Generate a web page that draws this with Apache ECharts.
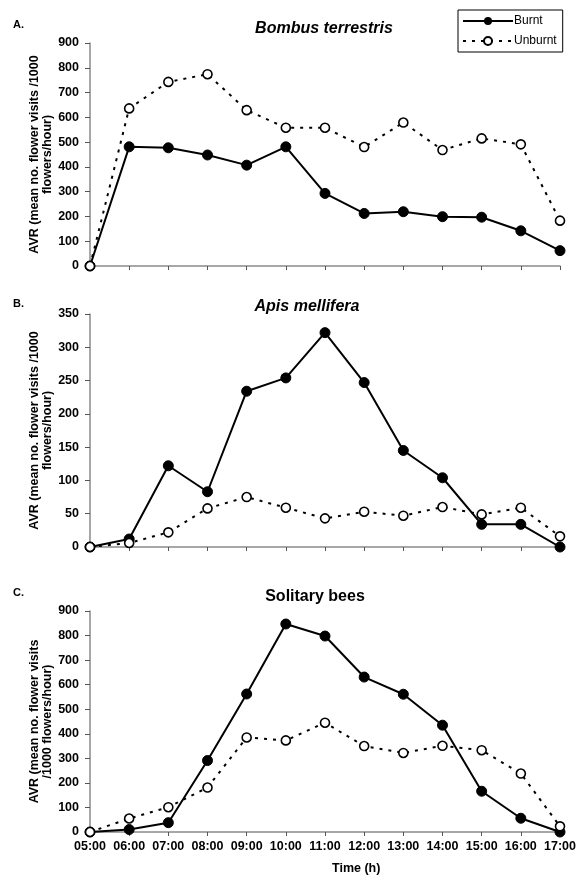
<!DOCTYPE html>
<html>
<head>
<meta charset="utf-8">
<script src="https://cdn.jsdelivr.net/npm/echarts@6/dist/echarts.min.js"></script>
<style>
html,body{margin:0;padding:0;background:#fff;}
#chart{width:579px;height:877px;}
</style>
</head>
<body>
<div id="chart"></div>
<script>
var times = ['05:00','06:00','07:00','08:00','09:00','10:00','11:00','12:00','13:00','14:00','15:00','16:00','17:00'];
var seriesNames = ['Burnt','Unburnt'];
var panelTitles = ['Bombus terrestris','Apis mellifera','Solitary bees'];
var panelLetters = ['A.','B.','C.'];
var yMax = [900, 350, 900];
var yStep = [100, 50, 100];

var bombusBurnt   = [0, 481, 477, 448, 407, 481, 293, 212, 219, 199, 197, 142, 62];
var bombusUnburnt = [0, 636, 743, 774, 629, 558, 558, 480, 579, 468, 515, 491, 183];
var apisBurnt     = [0, 12, 122, 83, 234, 254, 322, 247, 145, 104, 34, 34, 0];
var apisUnburnt   = [0, 6, 22, 58, 75, 59, 43, 53, 47, 60, 49, 59, 16];
var solitaryBurnt   = [0, 10, 38, 291, 562, 847, 798, 631, 561, 435, 166, 56, 0];
var solitaryUnburnt = [0, 55, 101, 181, 385, 373, 445, 350, 322, 351, 333, 238, 23];

var burntData = [bombusBurnt, apisBurnt, solitaryBurnt];
var unburntData = [bombusUnburnt, apisUnburnt, solitaryUnburnt];

var FONT = '"Liberation Sans", Arial, sans-serif';
var grids = [
  {left: 90, right: 19, top: 43, height: 223},
  {left: 90, right: 19, top: 314, height: 233},
  {left: 90, right: 19, top: 611, height: 221}
];
var yNames = [
  'AVR (mean no. flower visits /1000\nflowers/hour)',
  'AVR (mean no. flower visits /1000\nflowers/hour)',
  'AVR (mean no. flower visits\n/1000 flowers/hour)'
];
var titleTops = [16, 294, 584];
var titleLefts = [319, 302, 310];
var letterTops = [14, 293, 582];

var xAxes = [], yAxes = [], series = [], titles = [];
for (var i = 0; i < 3; i++) {
  xAxes.push({
    type: 'category', gridIndex: i, data: times, boundaryGap: false,
    axisLine: {lineStyle: {color: '#8a8a8a', width: 1.5}},
    axisTick: {show: true, length: 4, inside: false, interval: 0, lineStyle: {color: '#555'}},
    axisLabel: {show: i === 2, interval: 0, hideOverlap: false, color: '#000', fontFamily: FONT, fontSize: 12.5, fontWeight: 'bold', margin: 8},
    splitLine: {show: false}
  });
  yAxes.push({
    type: 'value', gridIndex: i, min: 0, max: yMax[i], interval: yStep[i],
    name: yNames[i], nameLocation: 'middle', nameGap: 36, nameRotate: 90, nameMoveOverlap: false,
    nameTextStyle: {color: '#000', fontFamily: FONT, fontSize: 12.5, fontWeight: 'bold', lineHeight: 13},
    axisLine: {show: true, lineStyle: {color: '#8a8a8a', width: 1.5}},
    axisTick: {show: true, length: 5, lineStyle: {color: '#555'}},
    axisLabel: {color: '#000', fontFamily: FONT, fontSize: 12.5, fontWeight: 'bold', margin: 11},
    splitLine: {show: false}
  });
  series.push({
    name: seriesNames[0], type: 'line', xAxisIndex: i, yAxisIndex: i,
    data: burntData[i], symbol: 'circle', symbolSize: 10,
    lineStyle: {color: '#000', width: 2},
    itemStyle: {color: '#000', borderColor: '#000'},
    z: 3
  });
  series.push({
    name: seriesNames[1], type: 'line', xAxisIndex: i, yAxisIndex: i,
    data: unburntData[i], symbol: 'circle', symbolSize: 9,
    lineStyle: {color: '#000', width: 2, type: [3, 6]},
    itemStyle: {color: '#fff', borderColor: '#000', borderWidth: 1.6},
    z: 4
  });
  titles.push({
    text: panelTitles[i], left: titleLefts[i], top: titleTops[i], textAlign: 'center',
    textStyle: {fontFamily: FONT, fontSize: 16, fontWeight: 'bold', fontStyle: i < 2 ? 'italic' : 'normal', color: '#000'}
  });
  titles.push({
    text: panelLetters[i], left: 8, top: letterTops[i],
    textStyle: {fontFamily: FONT, fontSize: 11, fontWeight: 'bold', color: '#000'}
  });
}

var chart = echarts.init(document.getElementById('chart'), null, {renderer: 'canvas'});
chart.setOption({
  animation: false,
  backgroundColor: '#fff',
  title: titles,
  grid: grids,
  xAxis: xAxes,
  yAxis: yAxes,
  legend: {
    data: seriesNames, orient: 'vertical', left: 458, top: 10,
    itemWidth: 50, itemHeight: 10, itemGap: 8,
    padding: [5, 6, 5, 4],
    borderColor: '#000', borderWidth: 1,
    textStyle: {fontFamily: FONT, fontSize: 12, color: '#000', padding: [0, 0, 0, -4]}
  },
  graphic: [{
    type: 'text', left: 332, top: 862,
    style: {text: 'Time (h)', font: 'bold 12.5px ' + FONT, fill: '#000', textAlign: 'center'}
  }],
  series: series
});
</script>
</body>
</html>
